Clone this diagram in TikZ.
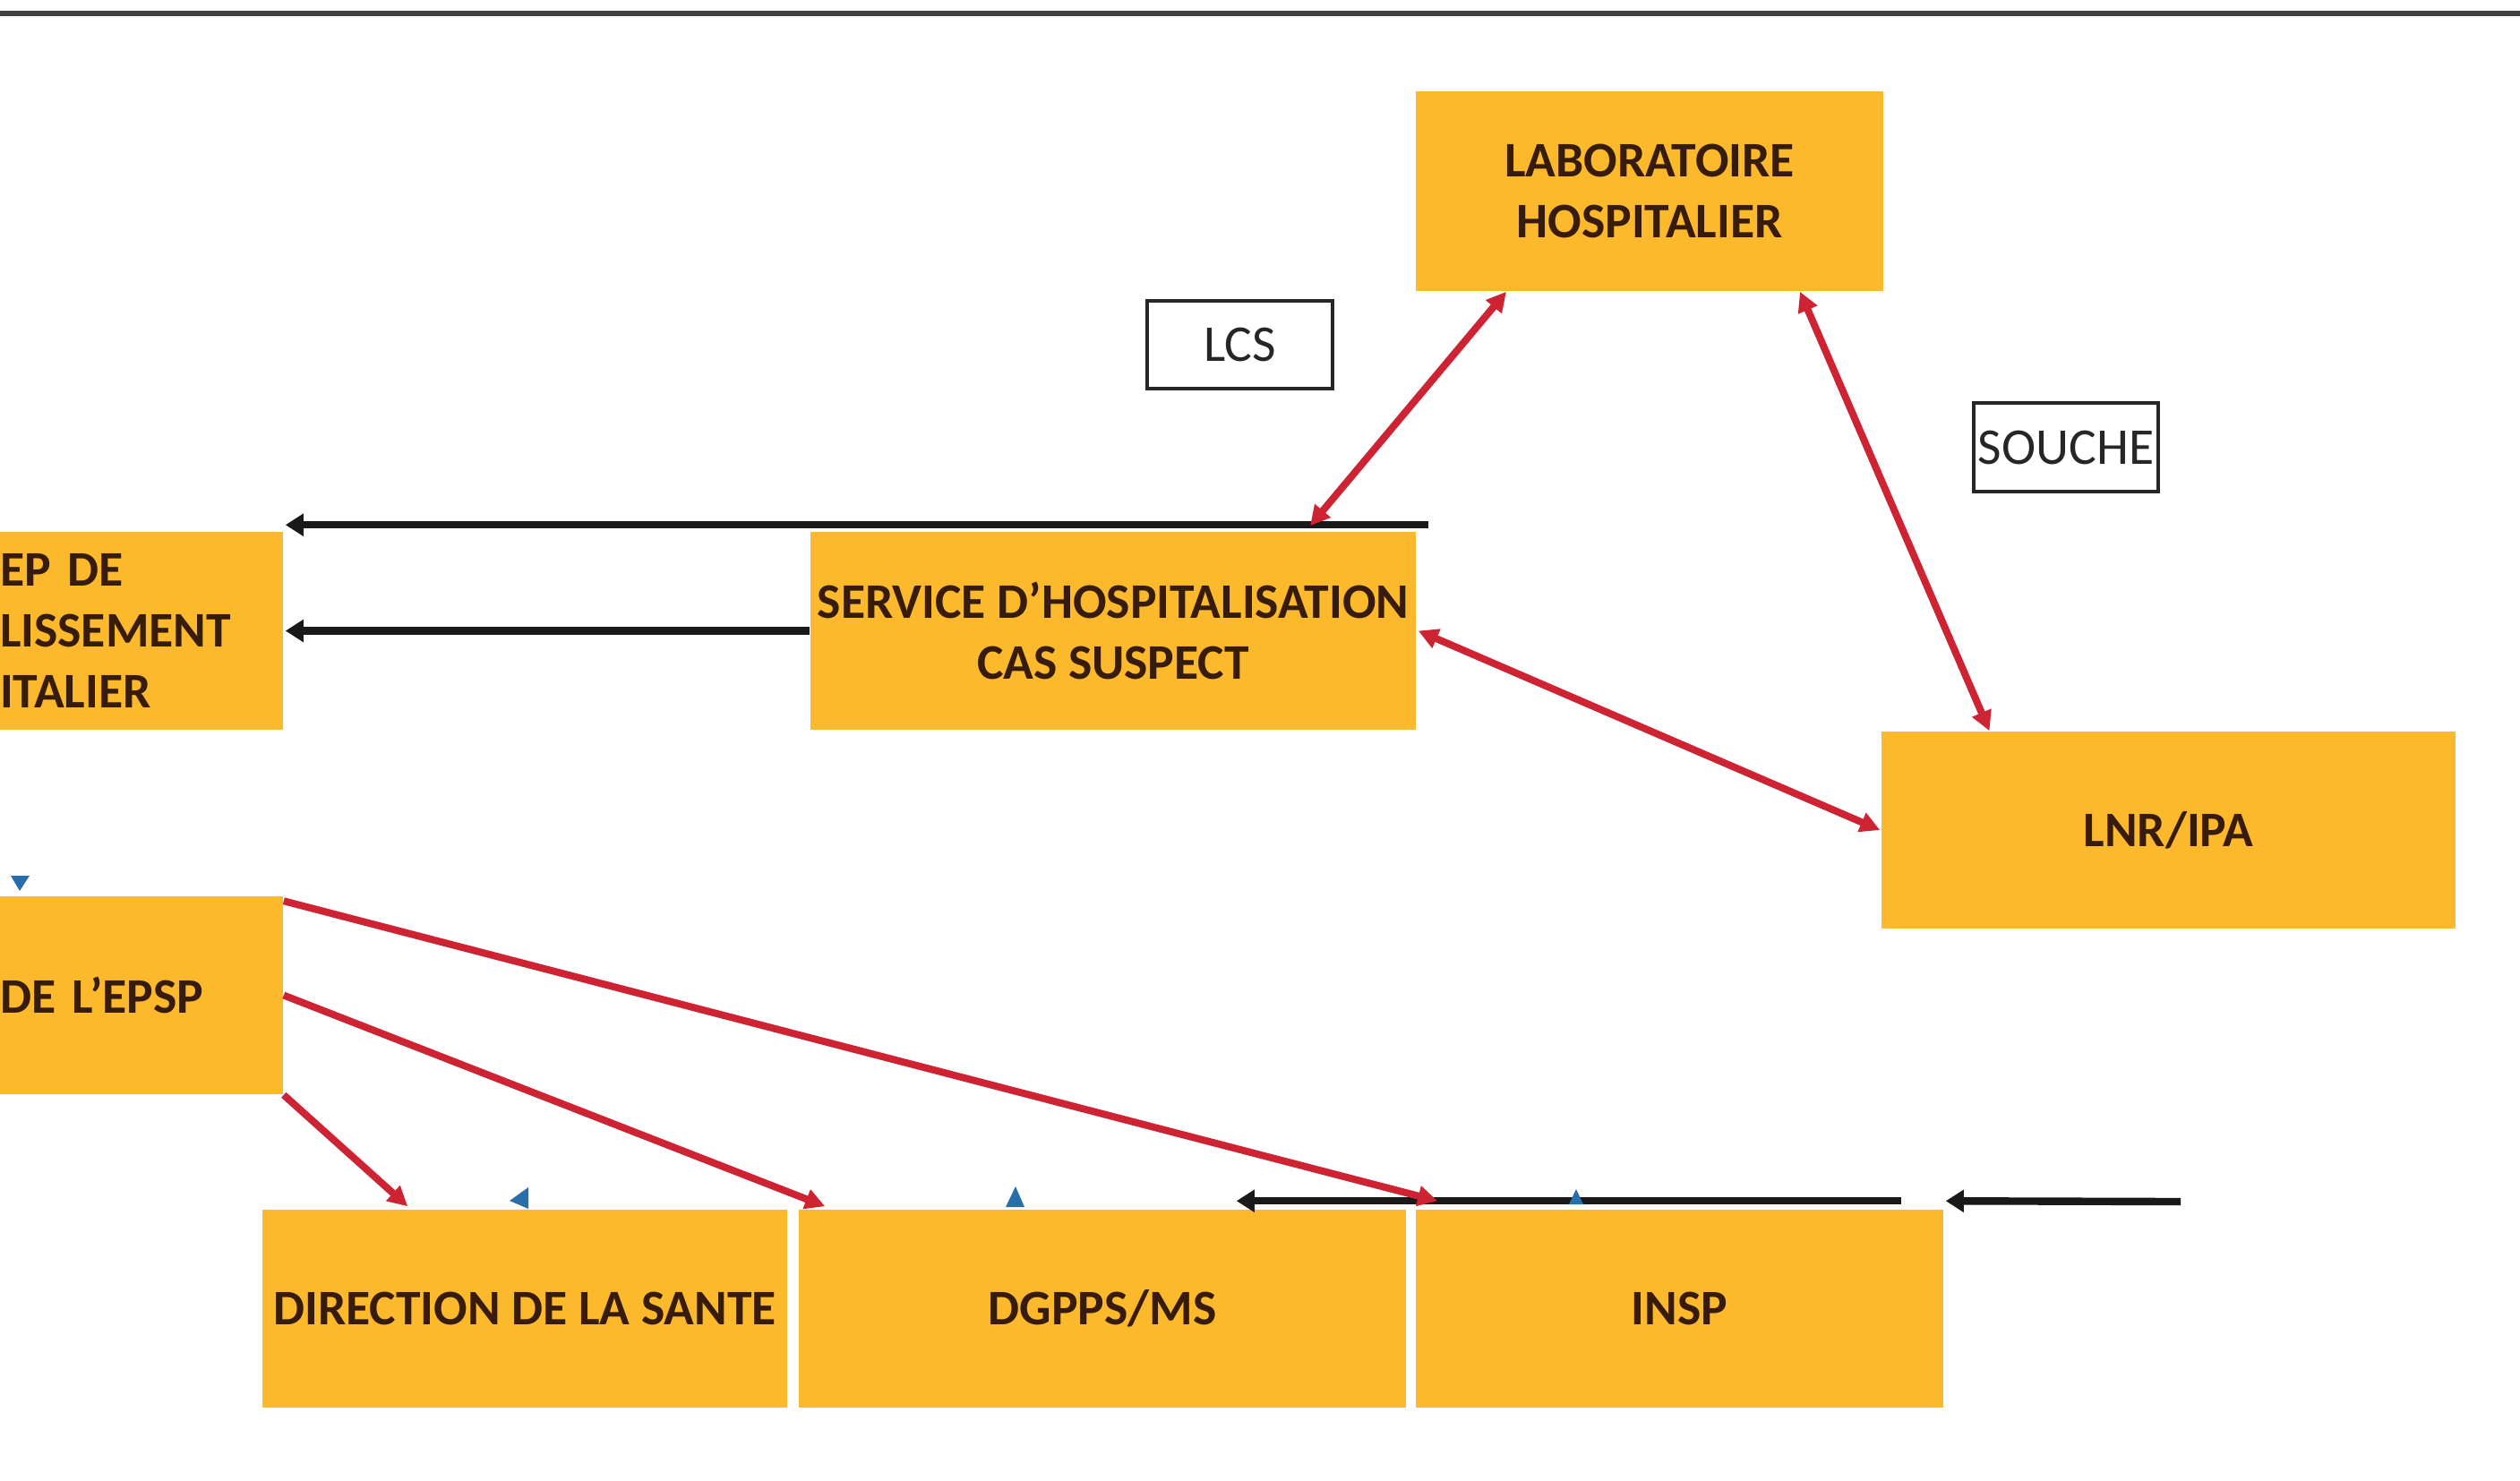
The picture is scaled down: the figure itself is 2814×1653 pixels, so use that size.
\documentclass[tikz,border=0pt]{standalone}
\usepackage{fontspec}
\setmainfont{Carlito}
\usetikzlibrary{arrows.meta,calc}
\definecolor{boxfill}{RGB}{251,185,43}
\definecolor{boxtext}{RGB}{55,28,12}
\definecolor{redarrow}{RGB}{205,35,50}
\definecolor{bluemark}{RGB}{40,110,170}
\tikzset{
  redtip/.tip={Triangle[length=5.5pt,width=5.5pt]},
  blacktip/.tip={Triangle[length=5pt,width=6pt]},
}
\begin{document}
\begin{tikzpicture}[x=0.25pt,y=-0.25pt,
  orgbox/.style={fill=boxfill, draw=none, inner sep=0pt, font=\fontsize{13.9}{17}\selectfont\bfseries, text=boxtext, align=center, minimum height=55.25pt},
  partbox/.style={orgbox, align=left, text width=79pt, minimum width=79pt},
  tagbox/.style={draw=black!85, line width=0.9pt, fill=white, inner sep=0pt, font=\fontsize{14.4}{15}\selectfont, text=black!85},
  redlink/.style={draw=redarrow, line width=2pt},
  blacklink/.style={draw=black!90, line width=2.1pt, -blacktip},
]
\useasboundingbox (0,0) rectangle (2814,1653);
\draw[line width=1.3pt, black!75] (0,15) -- (2814,15);

% nodes
\node[orgbox, minimum width=130.5pt, minimum height=55.75pt] (lab) at (1842,213.5) {LABORATOIRE\\HOSPITALIER};
\node[orgbox, minimum width=169pt] (serv) at (1243,704.5) {SERVICE D’HOSPITALISATION\\CAS SUSPECT};
\node[orgbox, minimum width=160.25pt, minimum height=55pt] (lnr) at (2421.5,927) {LNR/IPA};
\node[partbox] (semep) at (158,704.5) {EP DE\\LISSEMENT\\ITALIER};
\node[partbox] (epsp) at (158,1111.5) {DE L’EPSP};
\node[orgbox, minimum width=146.5pt] (dir) at (586,1461.5) {DIRECTION DE LA SANTE};
\node[orgbox, minimum width=169.5pt] (dgpps) at (1231,1461.5) {DGPPS/MS};
\node[orgbox, minimum width=147.25pt] (insp) at (1875.5,1461.5) {INSP};
\node[tagbox, minimum width=51.75pt, minimum height=24.5pt] (lcs) at (1384.5,385) {LCS};
\node[tagbox, minimum width=51.5pt, minimum height=24.75pt] (souche) at (2307,499.5) {SOUCHE};

% black connectors
\draw[blacklink] ($(serv.north east)+(13,-7)$) -- ($(semep.north east)+(2,-7)$);
\draw[blacklink] (serv.west) -- ($(semep.east)+(2,0)$);
\draw[blacklink] ($(insp.north east)+(-48,-9)$) -- ($(dgpps.north east)+(-190,-9)$);
\coordinate (freeend) at (2435,1342);
\draw[blacklink] (freeend) -- ($(insp.north east)+(2,-9)$);

% red connectors
\draw[redlink, redtip-redtip] ($(serv.north)+(220,-6)$) -- ($(lab.south)+(-160,0)$);
\draw[redlink, redtip-redtip] ($(lab.south)+(168,0)$) -- ($(lnr.north)+(-200,0)$);
\draw[redlink, redtip-redtip] ($(serv.east)+(2,0)$) -- ($(lnr.west)+(-1,0)$);
\draw[redlink, -redtip] ($(epsp.north east)+(0,6)$) -- ($(insp.north west)+(25,-9)$);
\draw[redlink, -redtip] (epsp.east) -- ($(dgpps.north west)+(30,-3)$);
\draw[redlink, -redtip] (epsp.south east) -- ($(dir.north west)+(163,-3)$);

% stray blue arrowheads
\fill[bluemark] (12,978) -- (33,978) -- (22,995) -- cycle;
\fill[bluemark] (590,1326) -- (590,1350) -- (569,1341) -- cycle;
\fill[bluemark] (1123,1348) -- (1144,1348) -- (1134,1325) -- cycle;
\fill[bluemark] (1752,1345) -- (1768,1345) -- (1760,1328) -- cycle;
\end{tikzpicture}
\end{document}
